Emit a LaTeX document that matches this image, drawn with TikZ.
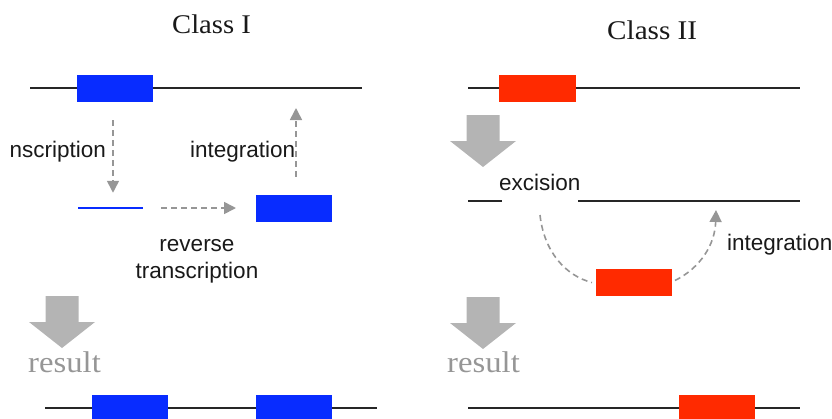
\documentclass[tikz,border=0pt]{standalone}
\usepackage{fontspec}
\setmainfont{Liberation Serif}
\newfontfamily\sansf{Liberation Sans}
\usetikzlibrary{arrows.meta}
\definecolor{dnablue}{RGB}{8,44,255}
\definecolor{dnared}{RGB}{255,42,0}
\definecolor{arrgray}{RGB}{180,180,180}
\definecolor{dashgray}{RGB}{150,150,150}
\definecolor{resgray}{RGB}{150,150,150}
\begin{document}
\begin{tikzpicture}[x=1pt,y=-1pt,
  dna/.style={line width=2.3pt, black!85},
  tebox/.style={draw=none, minimum width=76pt, minimum height=27pt, inner sep=0pt, outer sep=0pt},
  lbl/.style={font=\sansf\fontsize{22.5}{27}\selectfont, inner sep=0pt, text=black!90},
  ttl/.style={font=\fontsize{27}{30}\selectfont, inner sep=0pt, text=black!90},
  res/.style={font=\fontsize{30}{34}\selectfont, inner sep=0pt, text=resgray},
  dasharr/.style={dashgray, line width=1.6pt, dash pattern=on 6pt off 4pt, -{Triangle[length=12pt,width=12pt]}},
  bigarr/.pic={\fill[arrgray] (-16.5,0) -- (16.5,0) -- (16.5,26) -- (33,26) -- (0,52) -- (-33,26) -- (-16.5,26) -- cycle;}
]
\useasboundingbox (0,0) rectangle (832,418);
\clip (0,0) rectangle (832,418);

% ---------- Class I ----------
\node[ttl, anchor=base west] (t1) at (172,33) {\scalebox{1.06}[1]{Class I}};
\draw[dna] (30,88) -- (362,88);
\node[tebox, fill=dnablue] (b1) at (115,88.5) {};
\coordinate (ins1) at (296,88);

\node[fill=dnablue, minimum width=65pt, minimum height=2.5pt, inner sep=0pt, outer sep=0pt] (rna) at (110.5,208) {};
\node[tebox, fill=dnablue] (b2) at (294,208) {};

\draw[dasharr] ([xshift=-2pt,yshift=-18pt]b1.south) -- ([xshift=2.5pt,yshift=14pt]rna.north);
\draw[dasharr] ([xshift=18pt]rna.east) -- ([xshift=-20pt]b2.west);
\draw[dasharr] ([xshift=2pt,yshift=18pt]b2.north) -- ([yshift=-20pt]ins1);

\begin{scope}
  \clip (10,0) rectangle (832,418);
  \node[lbl, anchor=base east] (ltr) at (106,157) {transcription};
\end{scope}
\node[lbl, anchor=base west] (lint) at (190,157) {integration};
\node[lbl, anchor=base] (lrev) at (197,251) {reverse};
\node[lbl, anchor=base] (lrev2) at (197,278) {transcription};

\pic at (62,296) {bigarr};
\node[res, anchor=base west] (res1) at (28,372) {\scalebox{1.09}[1]{result}};

\draw[dna] (45,408) -- (377,408);
\node[tebox, fill=dnablue] (b3) at (130,408.5) {};
\node[tebox, fill=dnablue] (b4) at (294,408.5) {};

% ---------- Class II ----------
\node[ttl, anchor=base west] (t2) at (607,39) {\scalebox{1.08}[1]{Class II}};
\draw[dna] (468,88) -- (800,88);
\node[tebox, fill=dnared, minimum width=77pt] (r1) at (537.5,88.5) {};

\pic at (483,115) {bigarr};
\node[lbl, anchor=base west] (lexc) at (499,190) {excision};
\draw[dna] (468,201) -- (502,201);
\draw[dna] (578,201) -- (800,201);
\coordinate (exc) at (540,215);
\coordinate (ins2) at (716,201);

\node[tebox, fill=dnared] (r2) at (634,282.5) {};
\draw[dashgray, line width=1.6pt, dash pattern=on 6pt off 4pt]
  (exc) .. controls (544,252) and (566,276) .. ([xshift=-4pt]r2.west);
\draw[dasharr]
  ([xshift=3pt,yshift=2pt]r2.east) .. controls (700,268) and (715,245) .. ([yshift=-9pt]ins2);
\node[lbl, anchor=base west] (lint2) at (727,250) {integration};

\pic at (483,297) {bigarr};
\node[res, anchor=base west] (res2) at (447,372) {\scalebox{1.09}[1]{result}};

\draw[dna] (468,408) -- (800,408);
\node[tebox, fill=dnared] (r3) at (717,408.5) {};
\end{tikzpicture}
\end{document}
